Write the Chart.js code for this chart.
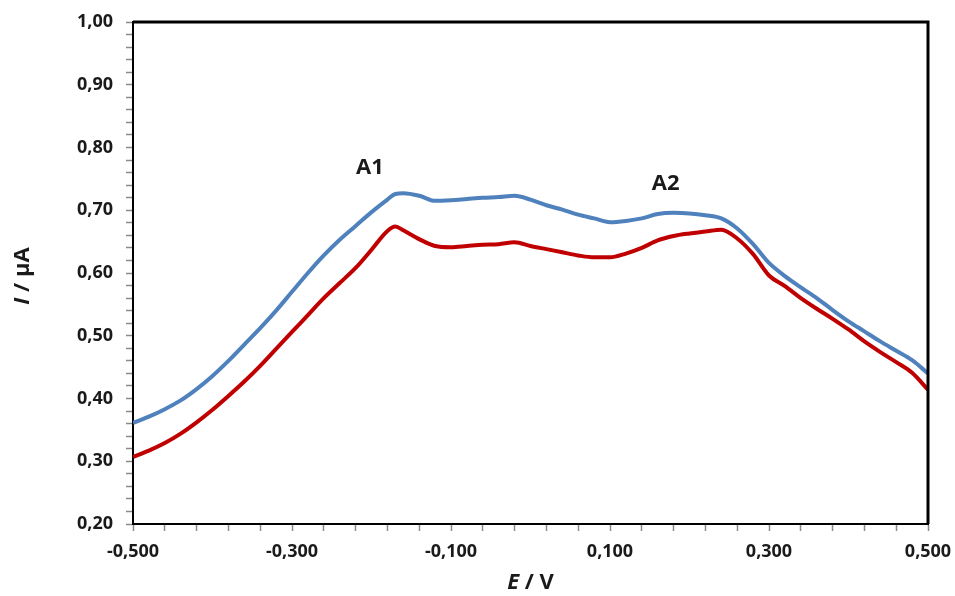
<!DOCTYPE html>
<html>
<head>
<meta charset="utf-8">
<script src="https://cdn.jsdelivr.net/npm/chart.js@4.4.1/dist/chart.umd.min.js"></script>
<style>
html, body { margin: 0; padding: 0; background: #fff; }
</style>
</head>
<body>
<canvas id="chart" width="955" height="596"></canvas>
<script>
// E / V
const potential = [-0.50, -0.48, -0.46, -0.44, -0.42, -0.40, -0.38, -0.36, -0.34, -0.32,
  -0.30, -0.28, -0.26, -0.24, -0.22, -0.20, -0.18, -0.17, -0.16, -0.14,
  -0.12, -0.10, -0.08, -0.06, -0.04, -0.02, 0.00, 0.02, 0.04, 0.06,
  0.08, 0.10, 0.12, 0.14, 0.16, 0.18, 0.20, 0.22, 0.24, 0.26,
  0.28, 0.30, 0.32, 0.34, 0.36, 0.38, 0.40, 0.42, 0.44, 0.46, 0.48, 0.50];
// I / µA, upper (blue) curve
const currentBlue = [0.361, 0.371, 0.383, 0.397, 0.415, 0.436, 0.460, 0.486, 0.512, 0.540,
  0.570, 0.600, 0.628, 0.653, 0.675, 0.697, 0.717, 0.726, 0.727, 0.723,
  0.715, 0.716, 0.718, 0.720, 0.721, 0.723, 0.717, 0.708, 0.701, 0.693,
  0.687, 0.681, 0.683, 0.687, 0.694, 0.696, 0.695, 0.692, 0.687, 0.671,
  0.646, 0.616, 0.595, 0.577, 0.560, 0.541, 0.523, 0.507, 0.491, 0.476, 0.461, 0.440];
// I / µA, lower (red) curve
const currentRed = [0.307, 0.317, 0.329, 0.344, 0.362, 0.382, 0.404, 0.427, 0.452, 0.479,
  0.506, 0.533, 0.560, 0.584, 0.608, 0.637, 0.667, 0.674, 0.668, 0.654,
  0.643, 0.641, 0.643, 0.645, 0.646, 0.649, 0.643, 0.638, 0.633, 0.628,
  0.625, 0.625, 0.631, 0.640, 0.652, 0.659, 0.663, 0.666, 0.669, 0.655,
  0.630, 0.596, 0.579, 0.560, 0.543, 0.527, 0.510, 0.491, 0.474, 0.458, 0.441, 0.414];

const xMajor = [-0.5, -0.3, -0.1, 0.1, 0.3, 0.5];
const yMajor = [0.2, 0.3, 0.4, 0.5, 0.6, 0.7, 0.8, 0.9, 1.0];
const peakNames = ['A1', 'A2'];
const peakE = [-0.202, 0.170];
const peakI = [0.767, 0.743];

const FONT = "'Open Sans', 'DejaVu Sans', sans-serif";
const TXT = '#1a1a1a';

function toPoints(ys) {
  return potential.map((e, i) => ({ x: e, y: ys[i] }));
}
function isMajor(v, list) {
  return list.some(m => Math.abs(v - m) < 1e-6);
}
function comma(v, d) {
  return v.toFixed(d).replace('.', ',');
}
function minorTicks(min, max, step) {
  const t = [];
  for (let v = min; v <= max + 1e-9; v += step) t.push({ value: Math.round(v * 1000) / 1000 });
  return t;
}

// axis titles with italic symbol, peak labels and frame
const extras = {
  id: 'extras',
  afterDatasetsDraw(chart) {
    const ctx = chart.ctx;
    const a = chart.chartArea;
    const sx = chart.scales.x, sy = chart.scales.y;
    ctx.save();
    // top/right frame
    ctx.strokeStyle = '#000';
    ctx.lineWidth = 3;
    ctx.beginPath();
    ctx.moveTo(a.left, a.top);
    ctx.lineTo(a.right, a.top);
    ctx.lineTo(a.right, a.bottom);
    ctx.stroke();

    ctx.fillStyle = TXT;
    ctx.textBaseline = 'middle';
    ctx.textAlign = 'center';
    ctx.font = 'bold 22px ' + FONT;
    peakNames.forEach((n, i) => {
      ctx.fillText(n, sx.getPixelForValue(peakE[i]), sy.getPixelForValue(peakI[i]));
    });

    function mixed(sym, rest, cx, cy) {
      ctx.font = 'italic bold 22px ' + FONT;
      const w1 = ctx.measureText(sym).width;
      ctx.font = 'bold 22px ' + FONT;
      const w2 = ctx.measureText(rest).width;
      const x0 = cx - (w1 + w2) / 2;
      ctx.textAlign = 'left';
      ctx.font = 'italic bold 22px ' + FONT;
      ctx.fillText(sym, x0, cy);
      ctx.font = 'bold 22px ' + FONT;
      ctx.fillText(rest, x0 + w1, cy);
    }
    mixed('E', ' / V', (a.left + a.right) / 2, 583);
    ctx.translate(23, 276);
    ctx.rotate(-Math.PI / 2);
    mixed('I', ' / µA', 0, 0);
    ctx.restore();
  }
};

const axisGrid = {
  drawOnChartArea: false,
  drawTicks: true,
  tickLength: 7,
  tickColor: '#8a8a8a',
  tickWidth: 1.5
};

new Chart(document.getElementById('chart'), {
  type: 'line',
  data: {
    datasets: [
      { data: toPoints(currentBlue), borderColor: '#4f81bd', borderWidth: 4, pointRadius: 0, cubicInterpolationMode: 'monotone' },
      { data: toPoints(currentRed), borderColor: '#c00000', borderWidth: 4, pointRadius: 0, cubicInterpolationMode: 'monotone' }
    ]
  },
  options: {
    responsive: false,
    animation: false,
    layout: { padding: { top: 22, right: 27, left: 0, bottom: 0 } },
    plugins: { legend: { display: false }, tooltip: { enabled: false } },
    scales: {
      x: {
        type: 'linear', min: -0.5, max: 0.5,
        afterBuildTicks: s => { s.ticks = minorTicks(-0.5, 0.5, 0.04); },
        afterFit: s => { s.height = 72; s.paddingLeft = 0; s.paddingRight = 0; },
        grid: axisGrid,
        border: { color: '#000', width: 2 },
        ticks: {
          autoSkip: false, maxRotation: 0, padding: 10, color: TXT,
          font: { family: FONT, size: 18, weight: 'bold' },
          callback: v => isMajor(v, xMajor) ? comma(v, 3) : ''
        }
      },
      y: {
        min: 0.2, max: 1.0,
        afterBuildTicks: s => { s.ticks = minorTicks(0.2, 1.0, 0.02); },
        afterFit: s => { s.width = 133; s.paddingTop = 0; s.paddingBottom = 0; },
        grid: axisGrid,
        border: { color: '#000', width: 2 },
        ticks: {
          autoSkip: false, padding: 13, color: TXT,
          font: { family: FONT, size: 18, weight: 'bold' },
          callback: v => isMajor(v, yMajor) ? comma(v, 2) : ''
        }
      }
    }
  },
  plugins: [extras]
});
</script>
</body>
</html>
